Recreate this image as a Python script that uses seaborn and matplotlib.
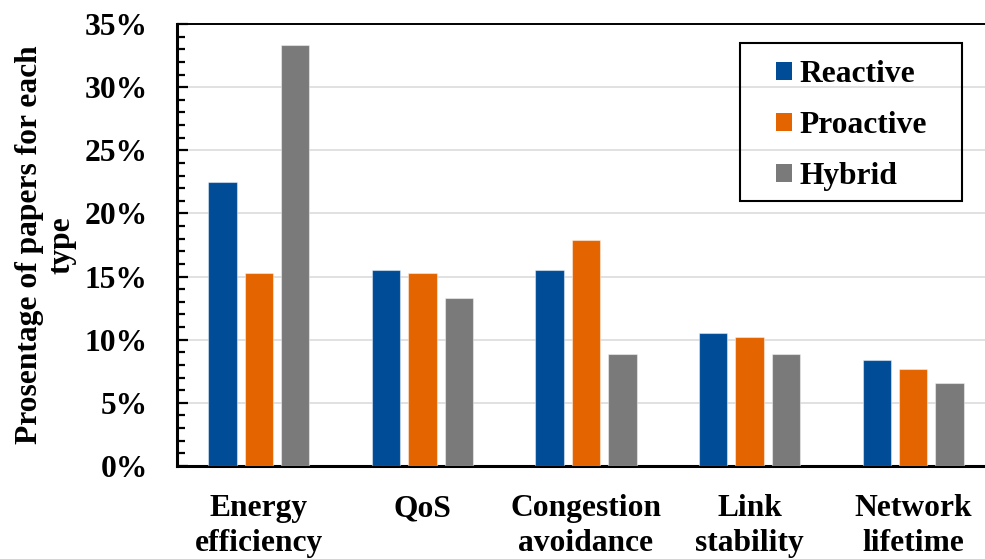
import matplotlib
matplotlib.use("Agg")
import matplotlib.pyplot as plt
from matplotlib.patches import Rectangle
from matplotlib.ticker import MultipleLocator, FuncFormatter
import seaborn as sns
import pandas as pd

# Share of surveyed papers per routing type, by design objective (%)
categories = ["Energy\nefficiency", "QoS", "Congestion\navoidance", "Link\nstability", "Network\nlifetime"]
routing_types = ["Reactive", "Proactive", "Hybrid"]
reactive = [22.5, 15.5, 15.5, 10.5, 8.4]
proactive = [15.3, 15.3, 17.9, 10.2, 7.7]
hybrid = [33.3, 13.3, 8.9, 8.9, 6.6]
y_ticks = [0, 5, 10, 15, 20, 25, 30, 35]

colors = ["#004C97", "#E46400", "#7A7A7A"]

rows = []
for name, vals in zip(routing_types, [reactive, proactive, hybrid]):
    for cat, v in zip(categories, vals):
        rows.append({"objective": cat, "type": name, "share": v})
df = pd.DataFrame(rows)

sns.set_theme(style="white")
plt.rcParams["font.family"] = ["Liberation Serif", "DejaVu Serif"]
plt.rcParams["font.weight"] = "bold"
plt.rcParams["axes.labelweight"] = "bold"
plt.rcParams["text.color"] = "black"
plt.rcParams["axes.labelcolor"] = "black"
plt.rcParams["xtick.color"] = "black"
plt.rcParams["ytick.color"] = "black"

fig = plt.figure(figsize=(9.85, 5.59), dpi=100)
ax = fig.add_axes([177 / 985, 1 - 466 / 559, (995 - 177) / 985, (466 - 24) / 559])

sns.barplot(
    data=df, x="objective", y="share", hue="type",
    order=categories, hue_order=routing_types, palette=colors, saturation=1,
    width=0.667, gap=0.22, edgecolor=(1, 1, 1, 0.45), linewidth=0.8,
    errorbar=None, ax=ax, zorder=3,
)

ax.set_xlim(-0.5, 4.5)
ax.set_ylim(0, 35)
ax.set_yticks(y_ticks)
ax.yaxis.set_minor_locator(MultipleLocator(1))
ax.yaxis.set_major_formatter(FuncFormatter(lambda v, _: f"{v:.0f}%"))
ax.grid(axis="y", color="#D9D9D9", linewidth=1.1, zorder=0)
ax.set_axisbelow(True)

fs = 22.7
ax.tick_params(axis="y", which="major", direction="in", length=8, width=1.6,
               pad=21, labelsize=fs, left=True, color="black", labelcolor="black")
ax.tick_params(axis="y", which="minor", direction="in", length=6, width=1.6,
               left=True, color="black")
ax.tick_params(axis="x", length=0, pad=20.5, labelsize=fs, labelcolor="black")
for lbl in ax.get_xticklabels() + ax.get_yticklabels():
    lbl.set_fontweight("bold")
for lbl in ax.get_xticklabels():
    lbl.set_linespacing(1.25)

for side in ["left", "bottom"]:
    ax.spines[side].set_color("black")
    ax.spines[side].set_linewidth(2.2)
ax.spines["top"].set_color("black")
ax.spines["top"].set_linewidth(1.4)
ax.spines["right"].set_visible(False)

ax.set_xlabel("")
ax.set_ylabel("Prosentage of papers for each\ntype", fontsize=fs, fontweight="bold",
              color="black", linespacing=1.2, labelpad=5.5)

# Legend entries, with a separate rectangular frame around them
handles, labels = ax.get_legend_handles_labels()
leg = ax.legend(
    handles, labels, loc="upper left", bbox_to_anchor=(776 / 985, 1 - 60 / 559),
    bbox_transform=fig.transFigure, borderaxespad=0, borderpad=0, frameon=False,
    handlelength=0.5, handleheight=0.5, handletextpad=0.25, labelspacing=0.7,
    prop={"family": "Liberation Serif", "weight": "bold", "size": fs},
)
for h in leg.legend_handles:
    h.set_edgecolor("none")
for t in leg.get_texts():
    t.set_color("black")
fig.add_artist(Rectangle((740 / 985, 1 - 201 / 559), (962 - 740) / 985, (201 - 43) / 559,
                         transform=fig.transFigure, fill=False, edgecolor="black",
                         linewidth=1.5, zorder=5))

fig.savefig("out.png", dpi=100)
